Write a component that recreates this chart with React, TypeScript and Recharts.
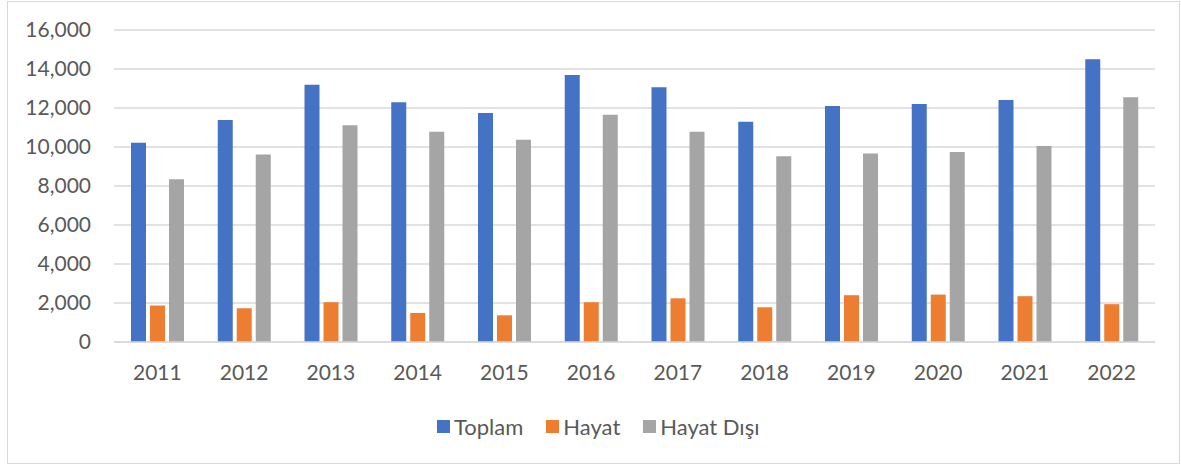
import { BarChart, Bar, XAxis, YAxis, CartesianGrid, Legend } from 'recharts';

const years = ['2011', '2012', '2013', '2014', '2015', '2016', '2017', '2018', '2019', '2020', '2021', '2022'];
const toplam = [10220, 11380, 13190, 12290, 11740, 13690, 13060, 11290, 12100, 12200, 12410, 14500];
const hayat = [1870, 1730, 2040, 1490, 1370, 2040, 2240, 1780, 2400, 2430, 2350, 1940];
const hayatDisi = [8340, 9620, 11110, 10780, 10370, 11650, 10780, 9520, 9670, 9740, 10050, 12550];
const yTicks = [0, 2000, 4000, 6000, 8000, 10000, 12000, 14000, 16000];

const series = [
  { key: 'toplam', name: 'Toplam', color: '#4472C4' },
  { key: 'hayat', name: 'Hayat', color: '#ED7D31' },
  { key: 'hayatDisi', name: 'Hayat Dışı', color: '#A5A5A5' },
];

const data = years.map((year, i) => ({
  year,
  toplam: toplam[i],
  hayat: hayat[i],
  hayatDisi: hayatDisi[i],
}));

const FONT = 'Lato, "Open Sans", sans-serif';
const TEXT = '#595959';
const GRID = '#d9d9d9';

const LegendContent = () => (
  <div style={{ display: 'flex', alignItems: 'center', fontFamily: FONT, fontSize: 22, color: TEXT }}>
    {series.map((s, i) => (
      <div key={s.key} style={{ display: 'flex', alignItems: 'center', marginLeft: i === 0 ? 0 : 23 }}>
        <span style={{ display: 'inline-block', width: 13, height: 13, background: s.color, marginRight: 4 }} />
        <span>{s.name}</span>
      </div>
    ))}
  </div>
);

export default function App() {
  return (
    <div style={{ position: 'absolute', left: 0, top: 0, width: 1181, height: 465, background: '#fff' }}>
      <div
        style={{
          position: 'absolute', left: 7, top: 1, width: 1173, height: 463,
          border: `1px solid ${GRID}`, boxSizing: 'border-box',
        }}
      />
      <BarChart
        width={1181}
        height={465}
        data={data}
        margin={{ top: 30, right: 26, left: 0, bottom: 83 }}
        barSize={15}
        barGap={4}
      >
        <CartesianGrid vertical={false} stroke={GRID} strokeWidth={1.5} />
        <XAxis
          dataKey="year"
          height={40}
          axisLine={{ stroke: GRID, strokeWidth: 1.5 }}
          tickLine={false}
          tickSize={0}
          tickMargin={23}
          tick={{ fontFamily: FONT, fontSize: 21, fill: TEXT }}
        />
        <YAxis
          width={114}
          domain={[0, 16000]}
          ticks={yTicks}
          axisLine={false}
          tickLine={false}
          tickSize={0}
          tickMargin={23}
          tickFormatter={(v: number) => v.toLocaleString('en-US')}
          tick={{ fontFamily: FONT, fontSize: 21, fill: TEXT }}
        />
        <Legend
          layout="horizontal"
          verticalAlign="middle"
          align="center"
          content={<LegendContent />}
          wrapperStyle={{ left: 437, top: 413, width: 'auto' }}
        />
        {series.map((s) => (
          <Bar key={s.key} dataKey={s.key} name={s.name} fill={s.color} isAnimationActive={false} />
        ))}
      </BarChart>
    </div>
  );
}
